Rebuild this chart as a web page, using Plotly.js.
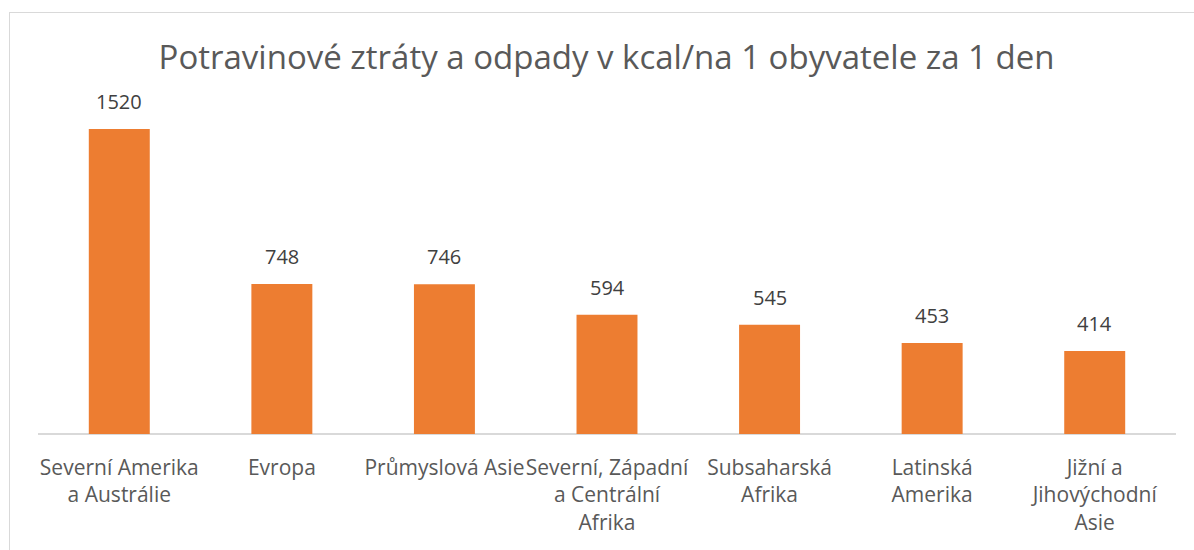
<!DOCTYPE html>
<html><head><meta charset="utf-8">
<script src="https://cdn.plot.ly/plotly-3.0.1.min.js"></script>
<style>
body{margin:0;padding:0;background:#fff;}
#wrap{position:relative;width:1194px;height:550px;overflow:hidden;}
#chart{position:absolute;left:0;top:0;width:1194px;height:550px;}
#frame{position:absolute;left:9px;top:12px;width:1300px;height:700px;border:1.5px solid #d9d9d9;pointer-events:none;}
</style></head>
<body>
<div id="wrap"><div id="chart"></div><div id="frame"></div></div>
<script>
const categories = ["Severní Amerika<br>a Austrálie", "Evropa", "Průmyslová Asie", "Severní, Západní<br>a Centrální<br>Afrika", "Subsaharská<br>Afrika", "Latinská<br>Amerika", "Jižní a<br>Jihovýchodní<br>Asie"];
const values = [1520, 748, 746, 594, 545, 453, 414];
const chartTitle = "Potravinové ztráty a odpady v kcal/na 1 obyvatele za 1 den";

const font = "'Open Sans', 'DejaVu Sans', sans-serif";
const idx = categories.map((_, i) => i);

const annotations = values.map((v, i) => ({
  x: i, y: v, xref: 'x', yref: 'y', text: String(v), showarrow: false,
  yanchor: 'bottom', yshift: 12, font: {family: font, size: 20, color: '#404040'}
}));

Plotly.newPlot('chart', [{
  type: 'bar', x: idx, y: values,
  marker: {color: '#ED7D31'},
  hoverinfo: 'none'
}], {
  width: 1194, height: 550,
  margin: {l: 38, r: 18, t: 113, b: 116},
  paper_bgcolor: '#fff', plot_bgcolor: '#fff',
  bargap: 0.625,
  showlegend: false,
  title: {text: chartTitle, x: 0.508, xanchor: 'center', y: 0.895, yanchor: 'middle',
          font: {family: font, size: 33, color: '#595959'}},
  xaxis: {tickvals: idx, ticktext: categories, range: [-0.5, 6.5], tickangle: 0,
          showgrid: false, zeroline: false, showline: false, ticks: '',
          ticklabelstandoff: 19,
          tickfont: {family: font, size: 21, color: '#595959'}},
  yaxis: {range: [0, 1600], showgrid: false, zeroline: true, zerolinecolor: '#d9d9d9', zerolinewidth: 2,
          showticklabels: false, showline: false, ticks: ''},
  annotations: annotations
}, {staticPlot: true});
</script>
</body></html>
